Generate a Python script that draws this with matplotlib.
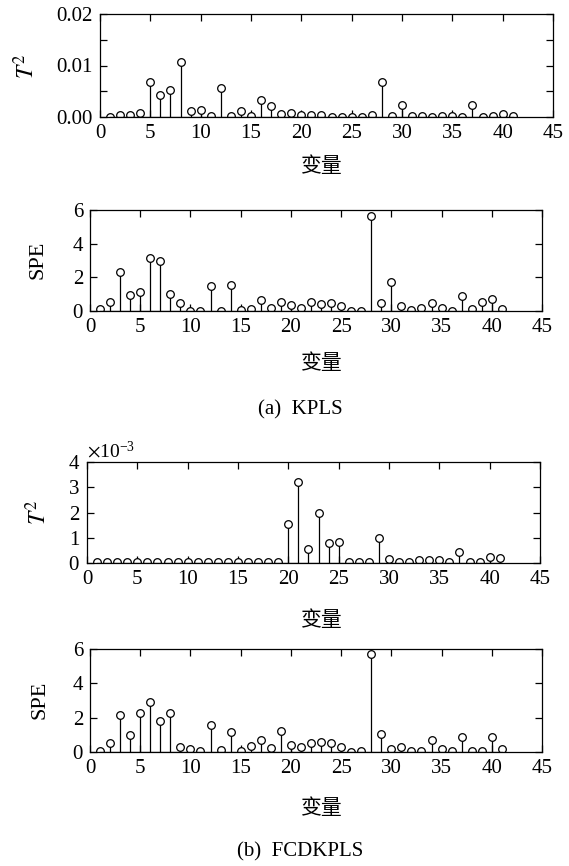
import numpy as np
import matplotlib
matplotlib.use('Agg')
import matplotlib.pyplot as plt
from matplotlib.ticker import ScalarFormatter

plt.rcParams['font.family'] = ['Liberation Serif', 'Noto Sans CJK SC']
plt.rcParams['mathtext.fontset'] = 'stix'
plt.rcParams['axes.unicode_minus'] = False

variables = np.arange(1, 42)

# (a) KPLS
kpls_t2 = [0.0, 0.0004, 0.0004, 0.0007, 0.0067, 0.0043, 0.0052, 0.0106, 0.0011, 0.0013,
           0.0001, 0.0057, 0.0001, 0.0012, 0.0002, 0.0033, 0.0021, 0.0006, 0.0007, 0.0003,
           0.0003, 0.0003, 0.0, 0.0, 0.0, 0.0, 0.0003, 0.0068, 0.0001, 0.0023,
           0.0002, 0.0001, 0.0, 0.0002, 0.0001, 0.0, 0.0023, 0.0, 0.0002, 0.0005, 0.0002]
kpls_spe = [0.1, 0.55, 2.3, 0.95, 1.15, 3.15, 2.95, 1.0, 0.45, 0.0,
            0.0, 1.5, 0.02, 1.55, 0.05, 0.1, 0.65, 0.2, 0.55, 0.35,
            0.15, 0.55, 0.4, 0.45, 0.3, 0.0, 0.0, 5.65, 0.5, 1.75,
            0.3, 0.05, 0.15, 0.5, 0.2, 0.02, 0.9, 0.1, 0.55, 0.7, 0.1]

# (b) FCDKPLS
fcd_t2 = [2e-5] * 19 + [1.55e-3, 3.2e-3, 0.55e-3, 2.0e-3, 0.8e-3, 0.85e-3, 2e-5, 2e-5, 2e-5,
                        1.0e-3, 0.15e-3, 3e-5, 3e-5, 0.1e-3, 0.1e-3, 0.1e-3, 3e-5, 0.45e-3,
                        2e-5, 3e-5, 0.22e-3, 0.18e-3]
fcd_spe = [0.05, 0.55, 2.15, 1.0, 2.3, 2.9, 1.8, 2.25, 0.3, 0.2,
           0.03, 1.55, 0.1, 1.15, 0.05, 0.35, 0.7, 0.25, 1.2, 0.4,
           0.3, 0.55, 0.6, 0.55, 0.3, 0.02, 0.03, 5.7, 1.05, 0.15,
           0.3, 0.05, 0.05, 0.7, 0.2, 0.03, 0.9, 0.05, 0.03, 0.85, 0.2]

xticks = [0, 5, 10, 15, 20, 25, 30, 35, 40, 45]

W, H = 569, 866
fig = plt.figure(figsize=(W / 100, H / 100), dpi=100)


def make_axes(left, right, top, bottom):
    return fig.add_axes([left / W, 1 - bottom / H, (right - left) / W, (bottom - top) / H])


def stem_panel(ax, y, ylim, yticks, yticklabels=None):
    markers, stems, base = ax.stem(variables, y, linefmt='k-', markerfmt='o', basefmt='k-')
    plt.setp(markers, markersize=5.5, markerfacecolor='white', markeredgecolor='black',
             markeredgewidth=0.9)
    plt.setp(stems, linewidth=0.9, color='black')
    plt.setp(base, linewidth=0.9, color='black')
    ax.set_xlim(0, 45)
    ax.set_ylim(*ylim)
    ax.set_xticks(xticks)
    ax.set_yticks(yticks)
    if yticklabels is not None:
        ax.set_yticklabels(yticklabels)
    ax.tick_params(direction='in', top=True, right=True, length=5, width=0.9,
                   labelsize=15, pad=5)
    for s in ax.spines.values():
        s.set_linewidth(0.9)


def ylab(x, y, text, size=16):
    fig.text(x / W, 1 - y / H, text, fontsize=size, rotation=90, ha='center', va='center')


ax1 = make_axes(100, 553, 14, 117)
stem_panel(ax1, kpls_t2, (0, 0.02), [0, 0.005, 0.01, 0.015, 0.02],
           ['0.00', '', '0.01', '', '0.02'])
ylab(26, 66, r'$T^2$', 17)

ax2 = make_axes(90, 542, 210, 311)
stem_panel(ax2, kpls_spe, (0, 6), [0, 2, 4, 6])
ylab(38, 260, 'SPE')

ax3 = make_axes(87, 540, 462, 563)
stem_panel(ax3, fcd_t2, (0, 0.004), [0, 0.001, 0.002, 0.003, 0.004])
fmt = ScalarFormatter(useMathText=True)
fmt.set_powerlimits((-2, 2))
ax3.yaxis.set_major_formatter(fmt)
ax3.yaxis.get_offset_text().set_fontsize(14)
ylab(38, 512, r'$T^2$', 17)

ax4 = make_axes(90, 542, 649, 752)
stem_panel(ax4, fcd_spe, (0, 6), [0, 2, 4, 6])
ylab(40, 700, 'SPE')

for yy in [166, 363, 620, 808]:
    fig.text(322 / W, 1 - yy / H, '变量', fontsize=15, ha='center', va='center',
             family='Noto Sans CJK SC')
fig.text(300 / W, 1 - 410 / H, '(a)  KPLS', fontsize=15, ha='center', va='center')
fig.text(300 / W, 1 - 852 / H, '(b)  FCDKPLS', fontsize=15, ha='center', va='center')

fig.savefig('out.png', dpi=100)
